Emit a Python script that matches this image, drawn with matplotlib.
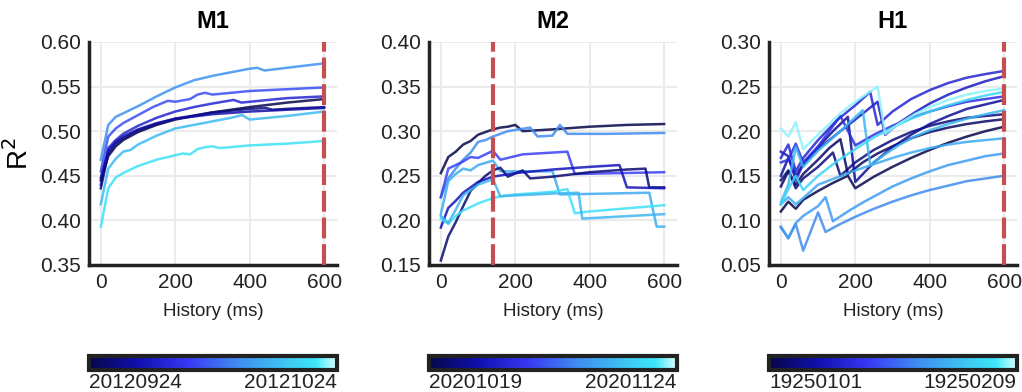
import matplotlib
matplotlib.use('Agg')
import matplotlib.pyplot as plt
from matplotlib.colors import LinearSegmentedColormap, Normalize
from matplotlib.cm import ScalarMappable

plt.rcParams['font.family'] = ['Liberation Sans', 'DejaVu Sans']

# ---------------- data ----------------
titles = ['M1', 'M2', 'H1']
session_first = ['20120924', '20201019', '19250101']
session_last = ['20121024', '20201124', '19250209']
best_history = [600, 140, 600]
ylims = [(0.35, 0.60), (0.15, 0.35), (0.05, 0.30)]

# M1: (session position 0..1, history x, R2)
m1_pos = [0.62, 0.45, 0.30, 0.0, 0.10, 0.18, 0.75, 0.90]
m1_x = [
    [0, 20, 40, 60, 80, 100, 150, 200, 250, 300, 350, 400, 420, 440, 500, 600],
    [0, 20, 40, 60, 100, 140, 180, 200, 240, 260, 280, 300, 400, 500, 600],
    [0, 20, 40, 60, 100, 150, 200, 250, 300, 357, 378, 450, 500, 600],
    [0, 20, 40, 60, 100, 150, 200, 300, 400, 500, 600],
    [0, 20, 40, 60, 100, 150, 200, 300, 400, 443, 461, 500, 600],
    [0, 20, 40, 60, 100, 150, 200, 300, 400, 500, 600],
    [0, 20, 40, 60, 80, 100, 150, 200, 250, 300, 350, 380, 400, 500, 600],
    [0, 20, 40, 60, 100, 150, 200, 220, 240, 260, 280, 300, 320, 400, 500, 600],
]
m1_y = [
    [0.468, 0.507, 0.516, 0.520, 0.524, 0.528, 0.539, 0.549, 0.557, 0.562, 0.566, 0.570, 0.571, 0.568, 0.571, 0.576],
    [0.455, 0.494, 0.503, 0.509, 0.518, 0.527, 0.534, 0.533, 0.536, 0.541, 0.543, 0.541, 0.545, 0.547, 0.549],
    [0.440, 0.481, 0.490, 0.497, 0.506, 0.515, 0.522, 0.527, 0.531, 0.535, 0.532, 0.535, 0.537, 0.539],
    [0.445, 0.472, 0.483, 0.490, 0.499, 0.507, 0.513, 0.521, 0.527, 0.532, 0.536],
    [0.436, 0.475, 0.486, 0.492, 0.501, 0.508, 0.514, 0.521, 0.525, 0.526, 0.524, 0.525, 0.527],
    [0.448, 0.478, 0.488, 0.494, 0.502, 0.509, 0.514, 0.519, 0.522, 0.524, 0.526],
    [0.418, 0.458, 0.469, 0.477, 0.479, 0.485, 0.495, 0.503, 0.507, 0.511, 0.515, 0.518, 0.513, 0.517, 0.522],
    [0.393, 0.436, 0.448, 0.453, 0.461, 0.468, 0.473, 0.475, 0.474, 0.480, 0.482, 0.483, 0.481, 0.484, 0.486, 0.489],
]

# M2
m2_pos = [0.0, 0.60, 0.42, 0.70, 0.08, 0.22, 0.90, 0.74]
m2_x = [
    [0, 20, 40, 60, 80, 100, 120, 140, 160, 180, 200, 220, 300, 400, 500, 600],
    [0, 20, 40, 60, 80, 100, 120, 140, 180, 240, 260, 300, 320, 340, 450, 600],
    [0, 20, 40, 60, 80, 100, 140, 160, 220, 340, 360, 600],
    [0, 20, 40, 60, 80, 100, 140, 160, 300, 320, 560, 580, 600],
    [0, 20, 40, 60, 80, 100, 120, 140, 160, 180, 220, 240, 300, 400, 500, 550, 560, 600],
    [0, 20, 40, 60, 100, 140, 200, 300, 400, 480, 500, 600],
    [0, 20, 40, 60, 100, 140, 160, 200, 300, 340, 360, 400, 600],
    [0, 20, 40, 60, 100, 140, 160, 200, 300, 370, 380, 600],
]
m2_y = [
    [0.253, 0.271, 0.277, 0.285, 0.289, 0.296, 0.299, 0.302, 0.304, 0.305, 0.307, 0.300, 0.302, 0.305, 0.307, 0.308],
    [0.226, 0.247, 0.258, 0.268, 0.276, 0.288, 0.290, 0.294, 0.300, 0.304, 0.294, 0.295, 0.307, 0.297, 0.297, 0.298],
    [0.226, 0.258, 0.262, 0.266, 0.271, 0.270, 0.278, 0.268, 0.274, 0.277, 0.252, 0.254],
    [0.207, 0.244, 0.252, 0.258, 0.256, 0.262, 0.267, 0.255, 0.255, 0.229, 0.231, 0.193, 0.193],
    [0.155, 0.182, 0.198, 0.216, 0.233, 0.242, 0.250, 0.256, 0.259, 0.249, 0.256, 0.247, 0.249, 0.254, 0.257, 0.258, 0.237, 0.237],
    [0.192, 0.214, 0.222, 0.231, 0.243, 0.249, 0.253, 0.257, 0.260, 0.262, 0.237, 0.236],
    [0.202, 0.196, 0.205, 0.211, 0.219, 0.225, 0.227, 0.229, 0.232, 0.235, 0.208, 0.210, 0.217],
    [0.205, 0.197, 0.212, 0.228, 0.240, 0.246, 0.227, 0.228, 0.230, 0.231, 0.202, 0.207],
]

# H1
h1_pos = [0.0, 0.05, 0.10, 0.15, 0.25, 0.30, 0.35, 0.60, 0.65, 0.70, 0.74, 0.85, 0.96]
h1_x = [
    [0, 20, 40, 60, 100, 140, 180, 200, 250, 300, 350, 400, 450, 500, 550, 600],
    [0, 20, 40, 60, 100, 130, 160, 180, 220, 260, 300, 350, 400, 450, 500, 550, 600],
    [0, 20, 40, 60, 100, 140, 160, 200, 250, 300, 350, 400, 450, 500, 550, 600],
    [0, 20, 40, 60, 100, 140, 180, 200, 250, 300, 350, 400, 450, 500, 550, 600],
    [0, 20, 40, 60, 100, 160, 200, 260, 280, 320, 360, 400, 450, 500, 550, 600],
    [0, 20, 40, 60, 100, 150, 200, 240, 260, 300, 350, 400, 450, 500, 550, 600],
    [0, 20, 40, 60, 100, 130, 160, 200, 250, 300, 350, 400, 450, 500, 550, 600],
    [0, 20, 40, 60, 100, 120, 160, 200, 250, 300, 350, 400, 450, 500, 550, 600],
    [0, 20, 40, 60, 100, 120, 140, 180, 220, 260, 300, 350, 400, 450, 500, 550, 600],
    [0, 20, 40, 60, 100, 150, 200, 250, 300, 350, 400, 450, 500, 550, 600],
    [0, 20, 40, 60, 100, 160, 220, 240, 280, 320, 360, 400, 450, 500, 550, 600],
    [0, 20, 40, 60, 100, 150, 200, 250, 300, 350, 400, 450, 500, 550, 600],
    [0, 20, 40, 60, 100, 160, 200, 260, 280, 320, 360, 400, 450, 500, 550, 600],
]
h1_y = [
    [0.110, 0.121, 0.113, 0.123, 0.133, 0.142, 0.150, 0.136, 0.149, 0.160, 0.170, 0.179, 0.187, 0.194, 0.200, 0.205],
    [0.138, 0.155, 0.140, 0.152, 0.168, 0.181, 0.191, 0.152, 0.165, 0.175, 0.183, 0.192, 0.199, 0.204, 0.208, 0.211, 0.2134],
    [0.145, 0.156, 0.136, 0.147, 0.160, 0.176, 0.150, 0.165, 0.179, 0.190, 0.199, 0.206, 0.211, 0.215, 0.217, 0.219],
    [0.150, 0.170, 0.150, 0.163, 0.182, 0.200, 0.216, 0.143, 0.165, 0.182, 0.196, 0.208, 0.217, 0.225, 0.230, 0.235],
    [0.177, 0.172, 0.145, 0.163, 0.180, 0.200, 0.213, 0.233, 0.196, 0.210, 0.221, 0.231, 0.241, 0.249, 0.256, 0.2616],
    [0.170, 0.185, 0.155, 0.170, 0.190, 0.212, 0.229, 0.244, 0.207, 0.222, 0.236, 0.246, 0.254, 0.260, 0.264, 0.2675],
    [0.165, 0.168, 0.186, 0.165, 0.183, 0.200, 0.217, 0.184, 0.196, 0.206, 0.215, 0.222, 0.228, 0.233, 0.236, 0.239],
    [0.093, 0.080, 0.096, 0.066, 0.109, 0.087, 0.096, 0.104, 0.113, 0.121, 0.128, 0.134, 0.139, 0.144, 0.147, 0.150],
    [0.092, 0.080, 0.097, 0.105, 0.116, 0.126, 0.099, 0.110, 0.120, 0.129, 0.138, 0.147, 0.155, 0.162, 0.167, 0.172, 0.175],
    [0.118, 0.126, 0.118, 0.125, 0.140, 0.148, 0.156, 0.163, 0.170, 0.176, 0.181, 0.185, 0.188, 0.190, 0.192],
    [0.120, 0.140, 0.182, 0.160, 0.178, 0.200, 0.2235, 0.162, 0.174, 0.185, 0.194, 0.201, 0.208, 0.214, 0.219, 0.2235],
    [0.118, 0.135, 0.150, 0.134, 0.150, 0.166, 0.180, 0.193, 0.204, 0.214, 0.222, 0.229, 0.235, 0.240, 0.244],
    [0.203, 0.194, 0.210, 0.180, 0.196, 0.220, 0.233, 0.250, 0.197, 0.209, 0.219, 0.227, 0.235, 0.241, 0.245, 0.248],
]

panels = [(m1_pos, m1_x, m1_y), (m2_pos, m2_x, m2_y), (h1_pos, h1_x, h1_y)]

cmap = LinearSegmentedColormap.from_list('sessions', [
    (0.0, '#06064a'), (0.2, '#1010b0'), (0.4, '#3838f5'),
    (0.6, '#3f8cf0'), (0.8, '#3cc8f2'), (0.92, '#3ee6fa'), (1.0, '#d8ffff')])

fig = plt.figure(figsize=(10.22, 3.92), dpi=100)
lefts = [0.087, 0.4197, 0.7524]
width = 0.2425

for i in range(3):
    ax = fig.add_axes([lefts[i], 0.324, width, 0.569])
    pos, xs, ys = panels[i]
    for p, x, y in zip(pos, xs, ys):
        ax.plot(x, y, color=cmap(p), lw=1.8, alpha=0.85)
    ax.axvline(best_history[i], color='#c44e52', lw=3, ls=(0, (5, 1.4)), zorder=5)

    lo, hi = ylims[i]
    ax.set_ylim(lo, hi)
    ax.set_yticks([lo + k * 0.05 for k in range(6)])
    ax.set_xlim(-32, 634)
    ax.set_xticks([0, 200, 400, 600])
    ax.grid(True, color='#ebebeb', lw=1.5)
    ax.set_axisbelow(True)
    for s in ['top', 'right']:
        ax.spines[s].set_visible(False)
    for s in ['left', 'bottom']:
        ax.spines[s].set_linewidth(2.5)
        ax.spines[s].set_color('#222222')
    ax.tick_params(length=0, labelsize=15, pad=6, colors='#222222')
    ax.set_title(titles[i], fontsize=17, fontweight='bold', pad=10)
    ax.set_xlabel('History (ms)', fontsize=13.5, labelpad=8, color='#222222')
    if i == 0:
        ax.set_ylabel('R$^2$', fontsize=20)
        ax.yaxis.set_label_coords(-0.22, 0.5)

    # session colour bar
    cax = fig.add_axes([lefts[i], 0.056, width, 0.036])
    cb = fig.colorbar(ScalarMappable(norm=Normalize(0, 1), cmap=cmap), cax=cax,
                      orientation='horizontal')
    cb.outline.set_linewidth(3)
    cb.outline.set_edgecolor('#222222')
    cb.set_ticks([0, 1])
    cb.set_ticklabels([session_first[i], session_last[i]])
    cax.tick_params(length=0, pad=2, colors='#222222')
    labs = cax.get_xticklabels()
    for lab in labs:
        lab.set_family(['Liberation Sans Narrow', 'Liberation Sans'])
        lab.set_fontsize(15)
    labs[0].set_ha('left')
    labs[1].set_ha('right')

fig.savefig('out.png', dpi=100)
